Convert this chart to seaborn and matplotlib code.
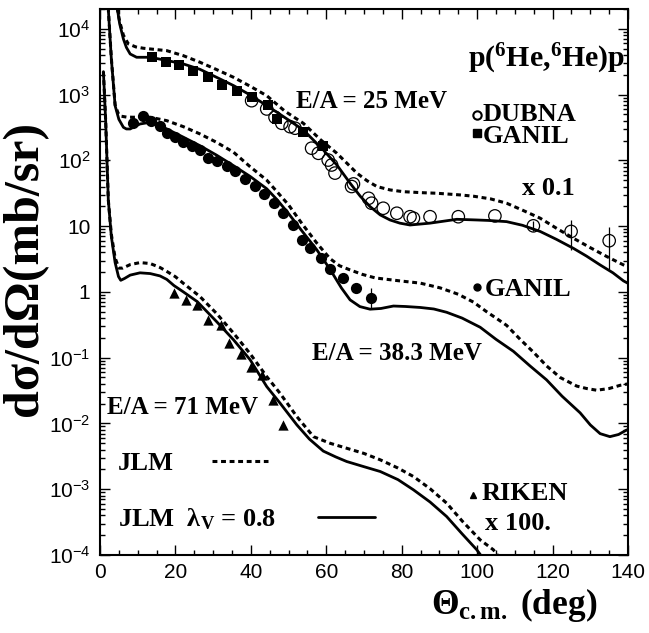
import matplotlib
matplotlib.use("Agg")
import matplotlib.pyplot as plt
from matplotlib.ticker import LogLocator, MultipleLocator, NullFormatter
import seaborn as sns

# E/A = 25 MeV (DUBNA + GANIL), JLM curves
th_25_solid = [4.0, 4.6, 5.2, 6.2, 7.0, 8.0, 9.7, 13.3, 17.7, 22.1, 26.5, 30.9, 35.4, 39.8,
               44.2, 46.9, 50.0, 53.9, 59.2, 62.8, 66.3, 69.0, 71.6, 74.3, 76.9, 79.5, 82.2,
               87.5, 94.6, 99.9, 103.0, 107.8, 112.0, 116.7, 121.0, 125.5, 129.0, 132.6,
               136.0, 138.8, 140.0]
xs_25_solid = [40000, 20000, 12000, 7000, 5200, 4140, 3690, 3690, 3300, 2920, 2420, 1830,
               1370, 986, 680, 538, 410, 290, 144, 85, 45, 28.5, 19.8, 14.8, 12.4, 11.1,
               10.4, 11.1, 12.7, 12.4, 12.2, 11.7, 10.3, 8.3, 6.3, 4.6, 3.5, 2.57, 1.95,
               1.47, 1.35]
th_25_dash = [4.0, 4.6, 5.2, 6.2, 7.5, 9.5, 11.5, 17.7, 22.1, 26.5, 30.9, 35.4, 39.8, 44.2,
              49.0, 53.9, 58.5, 62.8, 65.5, 68.1, 70.8, 73.4, 76.9, 80.4, 85.0, 89.3, 95.5,
              99.0, 103.5, 107.8, 112.0, 116.7, 121.0, 125.5, 130.0, 134.4, 138.8, 140.0]
xs_25_dash = [40000, 20000, 13000, 8000, 5900, 5300, 5060, 4650, 3900, 3100, 2400, 1830,
              1340, 962, 560, 366, 205, 128, 90, 64, 49, 40, 35.5, 33.4, 32.3, 31.6, 29.8,
              28.5, 26.0, 22.3, 17.5, 13.2, 9.3, 6.55, 4.7, 3.44, 2.57, 2.4]
th_dubna = [40.2, 44.2, 46.4, 48.2, 50.4, 51.7, 56.1, 57.9, 60.5, 61.4, 62.3, 66.7, 67.2,
            71.2, 72.0, 75.1, 78.7, 82.2, 83.1, 87.5, 95.0, 104.7, 114.9, 124.9, 135.0]
xs_dubna = [807, 604, 452, 366, 325, 308, 153, 128, 101, 85, 64, 40, 43.8, 26.5, 22.3, 18.7,
            15.7, 13.9, 13.2, 13.9, 13.9, 14.3, 10.1, 8.3, 6.0]
th_dubna_err = [114.9, 124.9, 135.0]
lo_dubna_err = [8.5, 4.3, 2.2]
hi_dubna_err = [12.0, 12.4, 9.8]
th_ganil25 = [13.7, 17.4, 21.0, 24.7, 28.5, 32.3, 36.2, 40.2, 44.6, 46.9, 53.9, 59.0]
xs_ganil25 = [3770, 3100, 2820, 2310, 1870, 1400, 1150, 929, 695, 422, 273, 166]

# E/A = 38.3 MeV (GANIL)
th_38_solid = [1.5, 2.2, 3.0, 4.0, 5.0, 6.2, 7.0, 8.0, 9.3, 10.6, 13.3, 15.5, 17.7, 22.1,
               26.5, 30.9, 35.4, 39.8, 44.2, 47.0, 50.0, 53.5, 57.5, 61.0, 64.0, 66.3, 68.9,
               71.6, 74.5, 77.8, 81.0, 84.9, 88.5, 91.9, 96.0, 100.8, 105.0, 109.6, 114.0,
               118.4, 122.5, 127.3, 130.0, 132.6, 135.2, 137.5, 139.7]
xs_38_solid = [60000, 20000, 3500, 678, 420, 318, 300, 300, 330, 357, 379, 350, 300, 225,
               167, 120, 83, 57, 37, 25, 15.5, 8.5, 4.35, 2.2, 1.15, 0.757, 0.598, 0.546,
               0.56, 0.61, 0.60, 0.58, 0.55, 0.49, 0.40, 0.29, 0.19, 0.125, 0.075, 0.046,
               0.026, 0.0145, 0.0095, 0.0070, 0.0063, 0.0068, 0.0080]
th_38_dash = [1.5, 2.2, 3.0, 4.0, 4.8, 5.5, 7.0, 8.8, 11.0, 13.3, 17.7, 22.1, 26.5, 30.9,
              35.4, 39.8, 44.2, 47.0, 50.0, 53.5, 57.5, 61.0, 63.5, 66.3, 69.5, 73.0, 79.5,
              84.9, 90.2, 95.0, 99.0, 102.5, 105.0, 107.8, 111.4, 115.0, 118.4, 122.0,
              126.4, 129.0, 131.7, 135.0, 137.9, 140.0]
xs_38_dash = [60000, 20000, 3600, 700, 520, 470, 455, 452, 455, 452, 401, 325, 252, 188, 133,
              80, 50, 33, 21, 11, 5.5, 3.2, 2.5, 2.16, 1.85, 1.63, 1.47, 1.36, 1.15, 0.92,
              0.70, 0.50, 0.40, 0.31, 0.19, 0.12, 0.075, 0.050, 0.037, 0.034, 0.032, 0.034,
              0.038, 0.040]
th_ganil38 = [8.8, 11.3, 13.4, 15.9, 17.7, 19.9, 22.1, 24.3, 26.5, 28.7, 30.9, 33.6, 35.8,
              38.5, 41.1, 43.5, 46.0, 48.6, 51.3, 53.6, 55.7, 58.5, 61.0, 64.5, 68.0, 71.8]
xs_ganil38 = [370, 478, 401, 330, 261, 224, 188, 167, 146, 108, 99, 83, 70, 52, 41, 31, 22.3,
              15.7, 10.4, 6.2, 4.6, 3.3, 2.2, 1.6, 1.15, 0.81]
th_ganil38_err = [71.8]
lo_ganil38_err = [0.55]
hi_ganil38_err = [1.15]

# E/A = 71 MeV (RIKEN)
th_71_solid = [0.9, 1.5, 2.2, 3.0, 4.0, 4.9, 5.5, 6.5, 8.0, 10.6, 13.3, 15.9, 17.7, 19.6,
               22.1, 25.8, 30.9, 35.4, 39.8, 44.2, 47.7, 52.2, 55.5, 59.2, 62.5, 65.4, 70.0,
               74.3, 79.0, 83.1, 87.5, 91.9, 96.0, 99.9, 101.5]
xs_71_solid = [2230, 400, 25, 7.0, 2.8, 1.71, 1.5, 1.6, 1.8, 1.95, 1.9, 1.75, 1.55, 1.25,
               1.0, 0.71, 0.354, 0.187, 0.093, 0.0364, 0.0205, 0.0095, 0.0058, 0.0038,
               0.0031, 0.00264, 0.0022, 0.00186, 0.0014, 0.00098, 0.00064, 0.000385,
               0.00021, 0.00012, 0.00009]
th_71_dash = [0.9, 1.5, 2.2, 3.0, 4.0, 5.0, 6.0, 8.0, 10.6, 13.3, 15.9, 17.7, 20.0, 22.1,
              26.5, 30.9, 35.4, 39.8, 44.2, 47.7, 52.2, 56.6, 61.0, 65.4, 70.0, 74.3, 79.0,
              83.1, 87.5, 91.9, 96.0, 100.8, 104.3, 106.0]
xs_71_dash = [2230, 400, 25, 7.5, 3.3, 2.3, 2.3, 2.6, 2.79, 2.7, 2.35, 2.05, 1.7, 1.35, 0.85,
              0.47, 0.236, 0.115, 0.0516, 0.0289, 0.0127, 0.0063, 0.0050, 0.0042, 0.0035,
              0.0028, 0.0021, 0.00156, 0.00102, 0.000615, 0.00033, 0.00017, 0.00012, 0.00009]
th_riken = [19.6, 22.8, 25.8, 28.5, 32.0, 34.3, 37.3, 40.0, 42.9, 45.8, 48.6]
xs_riken = [0.955, 0.757, 0.635, 0.376, 0.315, 0.166, 0.114, 0.0718, 0.0548, 0.0229, 0.00953]

x_ticks = [0, 20, 40, 60, 80, 100, 120, 140]
y_ticks = [1e-4, 1e-3, 1e-2, 1e-1, 1, 10, 1e2, 1e3, 1e4]
y_tick_labels = [r"$\mathsf{10^{-4}}$", r"$\mathsf{10^{-3}}$", r"$\mathsf{10^{-2}}$",
                 r"$\mathsf{10^{-1}}$", "1", "10", r"$\mathsf{10^{2}}$",
                 r"$\mathsf{10^{3}}$", r"$\mathsf{10^{4}}$"]

sns.set_style("ticks")
plt.rcParams["font.family"] = ["Liberation Serif", "DejaVu Sans"]
plt.rcParams["mathtext.fontset"] = "custom"
plt.rcParams["mathtext.rm"] = "Liberation Serif:bold"
plt.rcParams["mathtext.bf"] = "Liberation Serif:bold"
plt.rcParams["mathtext.it"] = "Liberation Serif:bold:italic"
plt.rcParams["mathtext.sf"] = "Liberation Sans"

fig = plt.figure(figsize=(6.49, 6.33), dpi=100)
ax = fig.add_axes([0.1541, 0.1232, 0.8136, 0.8626])
ax.set_yscale("log")

dash = (0, (1.6, 1.2))
curves = [(th_25_solid, xs_25_solid, "-"), (th_25_dash, xs_25_dash, dash),
          (th_38_solid, xs_38_solid, "-"), (th_38_dash, xs_38_dash, dash),
          (th_71_solid, xs_71_solid, "-"), (th_71_dash, xs_71_dash, dash)]
for th, xs, ls in curves:
    sns.lineplot(x=th, y=xs, ax=ax, color="black", sort=False, estimator=None,
                 linewidth=2.0 if ls == "-" else 2.2, linestyle=ls)

# error bars
ax.vlines(th_dubna_err, lo_dubna_err, hi_dubna_err, color="black", linewidth=0.9)
ax.vlines(th_ganil38_err, lo_ganil38_err, hi_ganil38_err, color="black", linewidth=0.9)

sns.scatterplot(x=th_dubna, y=xs_dubna, ax=ax, marker="o", s=80, facecolor="none",
                edgecolor="black", linewidth=0.9, zorder=4)
sns.scatterplot(x=th_ganil25, y=xs_ganil25, ax=ax, marker="s", s=55, color="black",
                edgecolor="black", linewidth=0, zorder=5)
sns.scatterplot(x=th_ganil38, y=xs_ganil38, ax=ax, marker="o", s=65, color="black",
                edgecolor="black", linewidth=0, zorder=5)
sns.scatterplot(x=th_riken, y=xs_riken, ax=ax, marker="^", s=55, color="black",
                edgecolor="black", linewidth=0, zorder=5)

ax.set_xlim(0, 140)
ax.set_ylim(1e-4, 2e4)
ax.set_xticks(x_ticks, labels=[str(t) for t in x_ticks])
ax.xaxis.set_minor_locator(MultipleLocator(5))
ax.set_yticks(y_ticks, labels=y_tick_labels)
ax.yaxis.set_minor_locator(LogLocator(base=10, subs=range(2, 10), numticks=20))
ax.yaxis.set_minor_formatter(NullFormatter())
ax.tick_params(which="both", direction="in", top=True, right=True, width=1, color="black")
ax.tick_params(which="major", length=7, labelsize=15, labelfontfamily="Liberation Sans",
               labelcolor="black")
ax.tick_params(axis="x", which="major", pad=6)
ax.tick_params(axis="y", which="major", pad=7)
ax.tick_params(which="minor", length=3.5)
for sp in ax.spines.values():
    sp.set_linewidth(1.5)
    sp.set_color("black")
ax.set_xlabel("")
ax.set_ylabel("")

bold = dict(fontweight="bold", color="black", transform=ax.transAxes, va="baseline")
ax.text(0.697, 0.894, r"p($^{6}$He,$^{6}$He)p", fontsize=21.5, **bold)
ax.text(0.371, 0.819, "E/A = 25 MeV", fontsize=18, **bold)
ax.text(0.725, 0.795, "DUBNA", fontsize=19, **bold)
ax.text(0.725, 0.755, "GANIL", fontsize=19, **bold)
ax.text(0.799, 0.659, "x 0.1", fontsize=19, **bold)
ax.text(0.729, 0.474, "GANIL", fontsize=19, **bold)
ax.text(0.402, 0.357, "E/A = 38.3 MeV", fontsize=18, **bold)
ax.text(0.013, 0.258, "E/A = 71 MeV", fontsize=18, **bold)
ax.text(0.034, 0.156, "JLM", fontsize=19, **bold)
ax.text(0.034, 0.053, r"JLM  λ$_{\mathrm{V}}$ = 0.8", fontsize=19, **bold)
ax.text(0.723, 0.101, "RIKEN", fontsize=19, **bold)
ax.text(0.729, 0.046, "x 100.", fontsize=19, **bold)

# legend symbols and line samples
ax.plot([0.714], [0.806], marker="o", ms=6, mfc="none", mec="black", mew=1.5,
        transform=ax.transAxes, clip_on=False)
ax.plot([0.714], [0.773], marker="s", ms=6, color="black", transform=ax.transAxes)
ax.plot([0.714], [0.491], marker="o", ms=5, color="black", transform=ax.transAxes)
ax.plot([0.706], [0.110], marker="^", ms=5, color="black", transform=ax.transAxes)
ax.plot([0.212, 0.318], [0.172, 0.172], color="black", linewidth=2.2, linestyle=dash,
        transform=ax.transAxes)
ax.plot([0.413, 0.521], [0.0696, 0.0696], color="black", linewidth=2.0,
        transform=ax.transAxes)

ax.text(0.627, -0.108, r"Θ$_{\mathrm{c.m.}}$ (deg)", fontsize=25.5, **bold)
ax.text(-0.142, 0.524, "dσ/dΩ(mb/sr)", fontsize=36, fontweight="bold", color="black",
        rotation=90, ha="center", va="center", transform=ax.transAxes)

fig.savefig("out.png", dpi=100)
